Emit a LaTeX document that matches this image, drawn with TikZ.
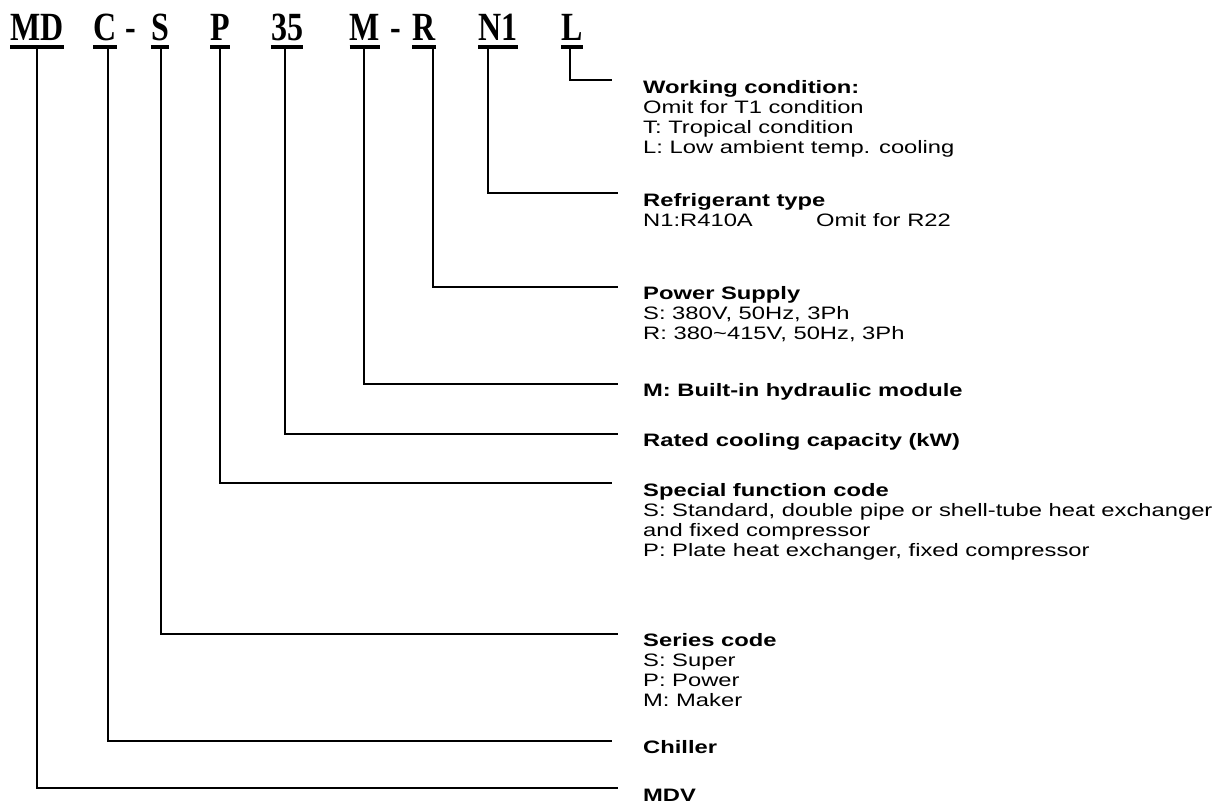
\documentclass[tikz,border=0pt]{standalone}
\usepackage{graphicx}
\usepackage{fontspec}
\setmainfont{Liberation Sans}
\newfontfamily\codefont{Liberation Serif}
\newcommand\cgl[1]{\scalebox{0.8}[1]{#1}}
\newcommand\lbltext[1]{\scalebox{1.32}[1]{\begin{tabular}{@{}l@{}}#1\end{tabular}}}
\begin{document}
\begin{tikzpicture}[x=1pt,y=-1pt,
  code/.style={font=\codefont\bfseries\fontsize{40}{40}\selectfont, inner sep=0pt, anchor=base},
  ul/.style={line width=4pt},
  conn/.style={line width=1.2pt},
  lbl/.style={font=\fontsize{18}{20}\selectfont, inner sep=0pt, anchor=north west}]
\useasboundingbox (0,0) rectangle (1226,807);
% code letters
\node[code] (cMD) at (37,40) {\cgl{MD}};
\node[code] (cC) at (105,40) {\cgl{C}};
\node[code] (d1) at (131,40) {\cgl{-}};
\node[code] (cS) at (160,40) {\cgl{S}};
\node[code] (cP) at (220,40) {\cgl{P}};
\node[code] (c35) at (287,40) {\cgl{35}};
\node[code] (cM) at (365,40) {\cgl{M}};
\node[code] (d2) at (396,40) {\cgl{-}};
\node[code] (cR) at (424,40) {\cgl{R}};
\node[code] (cN) at (498,40) {\cgl{N1}};
\node[code] (cL) at (572,40) {\cgl{L}};
\foreach \n in {cMD,cC,cS,cP,c35,cM,cR,cN,cL}
  \draw[ul] ([yshift=-6.5pt]\n.base west) -- ([yshift=-6.5pt]\n.base east);
% labels
\node[lbl] (tL) at (643,79.5) {\lbltext{\textbf{Working condition:}\\Omit for T1 condition\\T: Tropical condition\\L: Low ambient temp. cooling}};
\node[lbl] (tN) at (643,192.5) {\lbltext{\textbf{Refrigerant type}\\N1:R410A\hspace{48pt}Omit for R22}};
\node[lbl] (tR) at (643,285.5) {\lbltext{\textbf{Power Supply}\\S: 380V, 50Hz, 3Ph\\R: 380\textasciitilde415V, 50Hz, 3Ph}};
\node[lbl] (tM) at (643,382.5) {\lbltext{\textbf{M: Built-in hydraulic module}}};
\node[lbl] (t35) at (643,432.5) {\lbltext{\textbf{Rated cooling capacity (kW)}}};
\node[lbl] (tP) at (643,482.5) {\lbltext{\textbf{Special function code}\\S: Standard, double pipe or shell-tube heat exchanger\\and fixed compressor\\P: Plate heat exchanger, fixed compressor}};
\node[lbl] (tS) at (643,632.5) {\lbltext{\textbf{Series code}\\S: Super\\P: Power\\M: Maker}};
\node[lbl] (tC) at (643,739.5) {\lbltext{\textbf{Chiller}}};
\node[lbl] (tMDV) at (643,787.5) {\lbltext{\textbf{MDV}}};
% line ends
\coordinate (eL) at (612,80);
\coordinate (eN) at (618,193);
\coordinate (eR) at (618,287);
\coordinate (eM) at (618,384);
\coordinate (e35) at (618,434);
\coordinate (eP) at (612,483);
\coordinate (eS) at (618,634);
\coordinate (eC) at (612,741);
\coordinate (eMDV) at (618,788);
% connectors
\draw[conn] ([xshift=-2pt,yshift=-8pt]cL.base) |- (eL);
\draw[conn] ([xshift=-10pt,yshift=-8pt]cN.base) |- (eN);
\draw[conn] ([xshift=9pt,yshift=-8pt]cR.base) |- (eR);
\draw[conn] ([xshift=-1pt,yshift=-8pt]cM.base) |- (eM);
\draw[conn] ([xshift=-2pt,yshift=-8pt]c35.base) |- (e35);
\draw[conn] ([yshift=-8pt]cP.base) |- (eP);
\draw[conn] ([xshift=1pt,yshift=-8pt]cS.base) |- (eS);
\draw[conn] ([xshift=3pt,yshift=-8pt]cC.base) |- (eC);
\draw[conn] ([yshift=-8pt]cMD.base) |- (eMDV);
\end{tikzpicture}
\end{document}
